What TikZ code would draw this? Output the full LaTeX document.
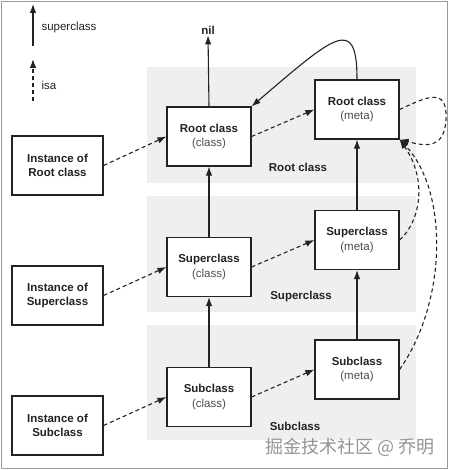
\documentclass[tikz,border=0pt]{standalone}
\usepackage{fontspec}
\setmainfont{Liberation Sans}
\newfontfamily\cjkfont{Noto Sans CJK SC}
\usetikzlibrary{arrows.meta}
\definecolor{bandgray}{HTML}{EFEFEF}
\definecolor{framegray}{HTML}{9A9A9A}
\definecolor{inkgray}{HTML}{222222}
\tikzset{
  cls/.style={draw=inkgray, line width=1.2pt, fill=white, minimum width=84pt, minimum height=59pt, inner sep=0pt, align=center, font=\fontsize{11.5}{14.5}\selectfont, text=inkgray},
  inst/.style={cls, minimum width=91pt, font=\fontsize{11.5}{13.5}\selectfont\bfseries},
  band/.style={fill=bandgray, draw=none},
  bandlabel/.style={font=\fontsize{11.5}{13}\selectfont\bfseries, text=inkgray},
  sup/.style={draw=inkgray, line width=1.1pt, -{Latex[length=9pt,width=6.5pt]}},
  isa/.style={draw=inkgray, line width=1.1pt, dash pattern=on 4pt off 3pt, -{Latex[length=9pt,width=6.5pt]}},
  legend/.style={font=\fontsize{11.5}{13}\selectfont, text=inkgray, anchor=west}
}
\begin{document}
\begin{tikzpicture}[x=1pt,y=-1pt]
\useasboundingbox (0,0) rectangle (449,470);
\draw[framegray, line width=1.5pt] (1.5,1.5) rectangle (447.5,468.5);
% bands
\fill[band] (147,67) rectangle (416,183);
\fill[band] (147,196) rectangle (416,312);
\fill[band] (147,325) rectangle (416,440);
\node[bandlabel] (lroot) at (298,167) {Root class};
\node[bandlabel] (lsuper) at (301,297) {Superclass};
\node[bandlabel] (lsub) at (295,426) {Subclass};
% legend
\coordinate (l1a) at (33,46);
\coordinate (l1b) at (33,4);
\coordinate (l2a) at (33,101);
\coordinate (l2b) at (33,59);
\draw[sup] (l1a) -- (l1b);
\draw[isa] (l2a) -- (l2b);
\node[legend] (ltxt1) at (38,28) {superclass};
\node[legend] (ltxt2) at (38,85) {isa};
% nodes
\node[font=\fontsize{11.5}{13}\selectfont\bfseries, text=inkgray, inner sep=1pt] (nil) at (208,30) {nil};
\node[cls] (rc) at (209,136.5) {\textbf{Root class}\\{\color{black!70}(class)}};
\node[cls] (rm) at (357,109.5) {\textbf{Root class}\\{\color{black!70}(meta)}};
\node[cls] (sc) at (209,267) {\textbf{Superclass}\\{\color{black!70}(class)}};
\node[cls] (sm) at (357,240) {\textbf{Superclass}\\{\color{black!70}(meta)}};
\node[cls] (bc) at (209,397) {\textbf{Subclass}\\{\color{black!70}(class)}};
\node[cls] (bm) at (357,369.5) {\textbf{Subclass}\\{\color{black!70}(meta)}};
\node[inst] (ir) at (57.5,165.5) {Instance of\\Root class};
\node[inst] (is) at (57.5,295.5) {Instance of\\Superclass};
\node[inst] (ib) at (57.5,425.5) {Instance of\\Subclass};
% superclass arrows
\draw[sup] (rc.north) -- (nil.south);
\draw[sup] (sc.north) -- (rc.south);
\draw[sup] (bc.north) -- (sc.south);
\draw[sup] (sm.north) -- (rm.south);
\draw[sup] (bm.north) -- (sm.south);
\draw[sup] (rm.north) .. controls (357,15) and (335,35) .. (rc.north east);
% isa arrows
\draw[isa] (ir.east) -- (rc.west);
\draw[isa] (is.east) -- (sc.west);
\draw[isa] (ib.east) -- (bc.west);
\draw[isa] (rc.east) -- (rm.west);
\draw[isa] (sc.east) -- (sm.west);
\draw[isa] (bc.east) -- (bm.west);
\draw[isa] (rm.east) .. controls (425,98) and (448,85) .. (446,120) .. controls (444,150) and (425,146) .. (rm.south east);
\draw[isa] (sm.east) .. controls (420,222) and (428,180) .. (rm.south east);
\draw[isa] (bm.east) .. controls (448,300) and (448,190) .. (rm.south east);
% watermark
\node[font=\cjkfont\fontsize{18}{20}\selectfont, text=black!42, anchor=east, inner sep=0pt] (wm) at (435,447) {掘金技术社区 @ 乔明};
\end{tikzpicture}
\end{document}
